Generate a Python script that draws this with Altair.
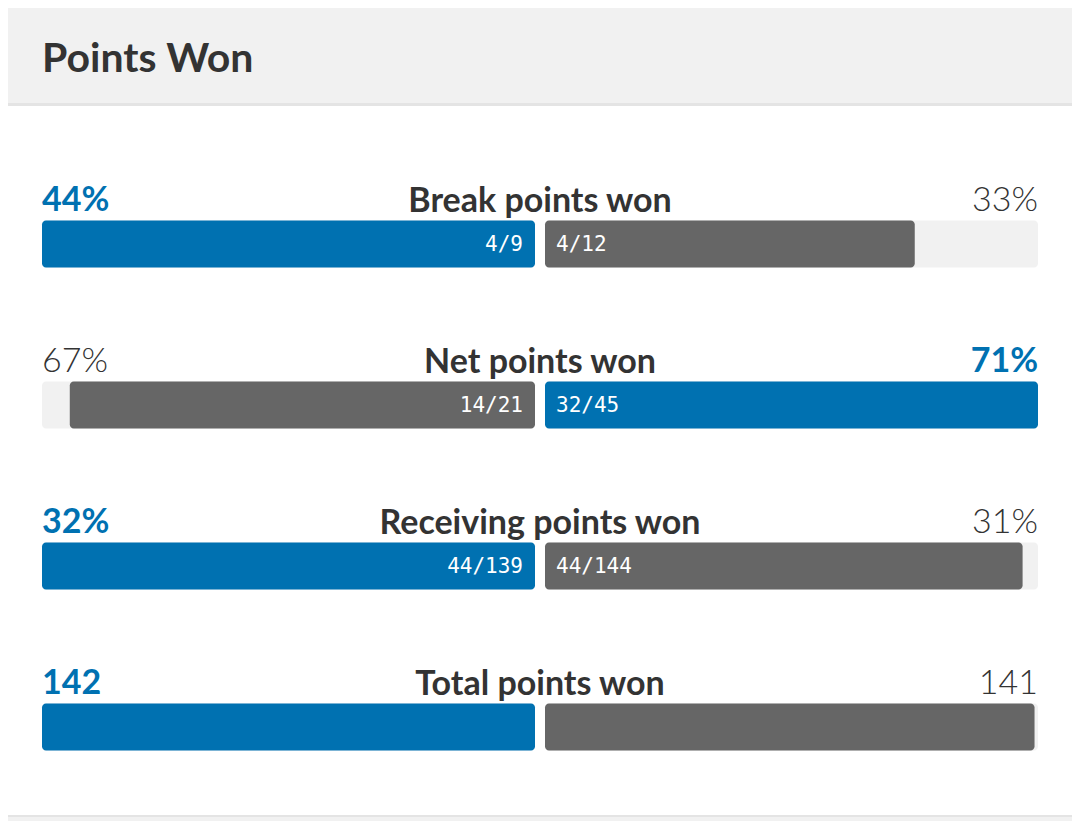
import altair as alt
import pandas as pd

# ---- data ----
title_text = "Points Won"
categories = ["Break points won", "Net points won", "Receiving points won", "Total points won"]
p1_values = [44, 67, 32, 142]
p2_values = [33, 71, 31, 141]
p1_display = ["44%", "67%", "32%", "142"]
p2_display = ["33%", "71%", "31%", "141"]
p1_fraction = ["4/9", "14/21", "44/139", ""]
p2_fraction = ["4/12", "32/45", "44/144", ""]

BLUE = "#0071b1"
GREY = "#666666"
TRACK = "#f1f1f1"
DARK = "#333333"

H = 5 / 493  # half gap between the two tracks, in track units

rows_bar, rows_track, rows_pct = [], [], []
for i, cat in enumerate(categories):
    a, b = p1_values[i], p2_values[i]
    m = max(a, b)
    fa, fb = a / m, b / m
    rows_track.append(dict(row=i, x=-H, x2=-(1 + H)))
    rows_track.append(dict(row=i, x=H, x2=1 + H))
    rows_bar.append(dict(row=i, side="L", x=-H, x2=-(H + fa), color=BLUE if a >= b else GREY,
                         frac=p1_fraction[i]))
    rows_bar.append(dict(row=i, side="R", x=H, x2=H + fb, color=BLUE if b > a else GREY,
                         frac=p2_fraction[i]))
    rows_pct.append(dict(row=i, side="L", x=-(1 + H), label=p1_display[i], win=a >= b))
    rows_pct.append(dict(row=i, side="R", x=1 + H, label=p2_display[i], win=b > a))

bars = pd.DataFrame(rows_bar)
tracks = pd.DataFrame(rows_track)
pcts = pd.DataFrame(rows_pct)
cats = pd.DataFrame(dict(row=list(range(len(categories))), cat=categories, x=0.0))

W, HGT = 1064, 813
xs = alt.Scale(domain=[-(1 + H), 1 + H], range=[34, 1030], padding=0, nice=False, zero=False)
ys = alt.Scale(domain=[0, 3], range=[236, 719], padding=0, nice=False, zero=False)

one = pd.DataFrame({"t": [title_text]})

header = alt.Chart(one).mark_rect(color="#f1f1f1").encode(
    x=alt.value(0), x2=alt.value(W), y=alt.value(0), y2=alt.value(95))
header_line = alt.Chart(one).mark_rect(color="#e4e4e4").encode(
    x=alt.value(0), x2=alt.value(W), y=alt.value(95), y2=alt.value(98))
footer = alt.Chart(one).mark_rect(color="#f1f1f1").encode(
    x=alt.value(0), x2=alt.value(W), y=alt.value(807), y2=alt.value(HGT))
footer_line = alt.Chart(one).mark_rect(color="#e4e4e4").encode(
    x=alt.value(0), x2=alt.value(W), y=alt.value(807), y2=alt.value(809))
title = alt.Chart(one).mark_text(
    font="Lato", fontWeight="bold", fontSize=41, color=DARK, align="left", baseline="alphabetic"
).encode(x=alt.value(34), y=alt.value(64), text="t:N")

track_layer = alt.Chart(tracks).mark_bar(height=47, cornerRadius=4, color=TRACK).encode(
    x=alt.X("x:Q", scale=xs, axis=None), x2="x2:Q", y=alt.Y("row:Q", scale=ys, axis=None))
bar_layer = alt.Chart(bars).mark_bar(height=47, cornerRadius=4).encode(
    x=alt.X("x:Q", scale=xs, axis=None), x2="x2:Q", y=alt.Y("row:Q", scale=ys, axis=None),
    color=alt.Color("color:N", scale=None))

frac_left = alt.Chart(bars).transform_filter("datum.side == 'L'").mark_text(
    font="DejaVu Sans Mono", fontSize=21, color="white", align="right", baseline="middle", dx=-12, dy=1
).encode(x=alt.X("x:Q", scale=xs), y=alt.Y("row:Q", scale=ys), text="frac:N")
frac_right = alt.Chart(bars).transform_filter("datum.side == 'R'").mark_text(
    font="DejaVu Sans Mono", fontSize=21, color="white", align="left", baseline="middle", dx=11, dy=1
).encode(x=alt.X("x:Q", scale=xs), y=alt.Y("row:Q", scale=ys), text="frac:N")

cat_layer = alt.Chart(cats).mark_text(
    font="Lato", fontWeight="bold", fontSize=34, color=DARK, align="center", baseline="alphabetic", dy=-32
).encode(x=alt.X("x:Q", scale=xs), y=alt.Y("row:Q", scale=ys), text="cat:N")


def pct_layer(side, win):
    align = "left" if side == "L" else "right"
    return alt.Chart(pcts).transform_filter(
        f"datum.side == '{side}' && datum.win == {str(win).lower()}"
    ).mark_text(
        font="Lato", fontWeight="bold" if win else 300, fontSize=34,
        color=BLUE if win else DARK, align=align, baseline="alphabetic", dy=-33
    ).encode(x=alt.X("x:Q", scale=xs), y=alt.Y("row:Q", scale=ys), text="label:N")


chart = alt.layer(
    header, header_line, footer, footer_line, title,
    track_layer, bar_layer, frac_left, frac_right, cat_layer,
    pct_layer("L", True), pct_layer("L", False), pct_layer("R", True), pct_layer("R", False)
).properties(
    width=W, height=HGT, autosize=alt.AutoSizeParams(type="none"), padding=0, background="white"
).configure_view(stroke=None)

chart.save("out.html", embed_options={"renderer": "svg", "actions": False})
